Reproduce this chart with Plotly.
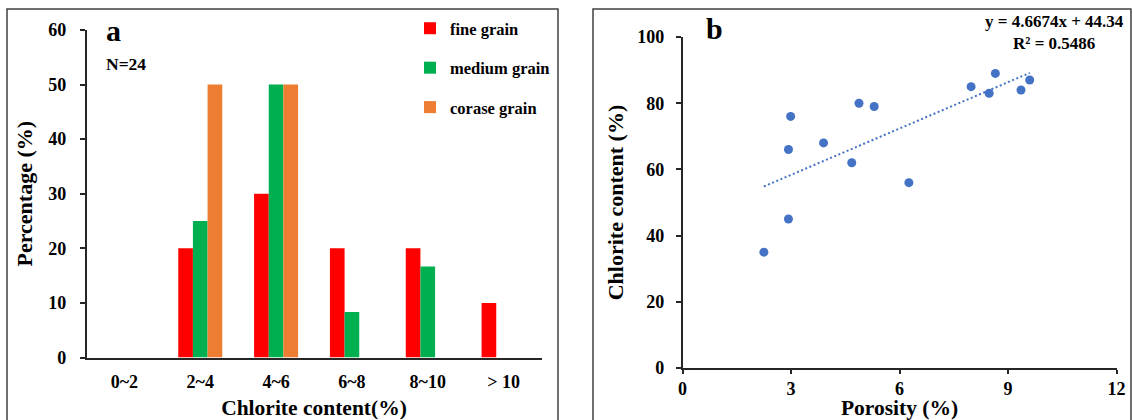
import plotly.graph_objects as go

# ---------------- data ----------------
categories = ["0~2", "2~4", "4~6", "6~8", "8~10", "> 10"]
fine_grain = [0, 20, 30, 20, 20, 10]
medium_grain = [0, 25, 50, 8.33, 16.67, 0]
coarse_grain = [0, 50, 50, 0, 0, 0]

porosity = [2.25, 2.93, 2.99, 2.93, 3.90, 4.68, 4.88, 5.30, 6.26, 7.98, 8.48, 8.65, 9.36, 9.60]
chlorite = [35, 45, 76, 66, 68, 62, 80, 79, 56, 85, 83, 89, 84, 87]

slope = 4.6674
intercept = 44.34
r_squared = 0.5486

W, H = 1132, 420
FONT = "Liberation Serif"


def px_x(p):
    return p / W


def px_y(p):
    return 1 - p / H


fig = go.Figure()

bar_colors = {"fine grain": "#FF0000", "medium grain": "#00B050", "corase grain": "#ED7D31"}
for name, vals in [("fine grain", fine_grain), ("medium grain", medium_grain), ("corase grain", coarse_grain)]:
    fig.add_trace(go.Bar(
        x=categories, y=vals, name=name, legendgroup=name,
        marker=dict(color=bar_colors[name], line=dict(width=0)),
        xaxis="x", yaxis="y",
    ))

fig.add_trace(go.Scatter(
    x=porosity, y=chlorite, mode="markers", showlegend=False,
    marker=dict(color="#4472C4", size=9),
    xaxis="x2", yaxis="y2",
))

xmin, xmax = min(porosity), max(porosity)
fig.add_trace(go.Scatter(
    x=[xmin, xmax], y=[slope * xmin + intercept, slope * xmax + intercept],
    mode="lines", showlegend=False,
    line=dict(color="#4472C4", width=2, dash="2px,2.5px"),
    xaxis="x2", yaxis="y2",
))

axis_common = dict(
    showline=True, linecolor="#262626", linewidth=1.5, showgrid=False, zeroline=False,
    tickfont=dict(family=FONT, size=18, color="black", weight="bold"),
    automargin=False,
)

fig.update_layout(
    width=W, height=H,
    margin=dict(l=0, r=0, t=0, b=0),
    paper_bgcolor="white", plot_bgcolor="white",
    barmode="group", bargap=0.42, bargroupgap=0,
    font=dict(family=FONT, color="black"),
    xaxis=dict(
        **axis_common,
        domain=[px_x(86.5), px_x(541.5)],
        type="category", categoryorder="array", categoryarray=categories,
        ticks="", ticklabelstandoff=7,
        title=dict(text="Chlorite content(%)", standoff=10,
                   font=dict(family=FONT, size=21.5, color="black", weight="bold")),
        anchor="y",
    ),
    yaxis=dict(
        **axis_common,
        domain=[px_y(357.5), px_y(30)],
        range=[0, 60], dtick=10, ticks="outside", ticklen=5, tickwidth=1.5, tickcolor="#262626",
        ticklabelstandoff=10,
        title=dict(text="Percentage (%)", standoff=9,
                   font=dict(family=FONT, size=22, color="black", weight="bold")),
        anchor="x",
    ),
    xaxis2=dict(
        **axis_common,
        domain=[px_x(682.5), px_x(1116.5)],
        range=[0, 12], dtick=3, ticks="outside", ticklen=4, tickwidth=1.5, tickcolor="#262626",
        ticklabelstandoff=0,
        title=dict(text="Porosity (%)", standoff=12,
                   font=dict(family=FONT, size=21.5, color="black", weight="bold")),
        anchor="y2",
    ),
    yaxis2=dict(
        **axis_common,
        domain=[px_y(368), px_y(37)],
        range=[0, 100], dtick=20, ticks="outside", ticklen=5, tickwidth=1.5, tickcolor="#262626",
        ticklabelstandoff=8,
        title=dict(text="Chlorite content (%)", standoff=7,
                   font=dict(family=FONT, size=22, color="black", weight="bold")),
        anchor="x2",
    ),
    legend=dict(
        x=px_x(410), y=px_y(11), xanchor="left", yanchor="top",
        font=dict(family=FONT, size=16.5, color="black", weight="bold"),
        tracegroupgap=15, bgcolor="rgba(0,0,0,0)", borderwidth=0,
        itemclick=False,
    ),
    shapes=[
        dict(type="rect", xref="paper", yref="paper",
             x0=px_x(7), x1=px_x(558), y0=px_y(440), y1=px_y(9),
             line=dict(color="#404040", width=1.5), fillcolor="rgba(0,0,0,0)", layer="below"),
        dict(type="rect", xref="paper", yref="paper",
             x0=px_x(593), x1=px_x(1131), y0=px_y(440), y1=px_y(9),
             line=dict(color="#404040", width=1.5), fillcolor="rgba(0,0,0,0)", layer="below"),
    ],
    annotations=[
        dict(text="a", xref="paper", yref="paper", x=px_x(104), y=px_y(31),
             xanchor="left", yanchor="middle", showarrow=False,
             font=dict(family=FONT, size=30, color="black", weight="bold")),
        dict(text="N=24", xref="paper", yref="paper", x=px_x(104), y=px_y(64),
             xanchor="left", yanchor="middle", showarrow=False,
             font=dict(family=FONT, size=17.5, color="black", weight="bold")),
        dict(text="b", xref="paper", yref="paper", x=px_x(704), y=px_y(29),
             xanchor="left", yanchor="middle", showarrow=False,
             font=dict(family=FONT, size=30, color="black", weight="bold")),
        dict(text=f"y = {slope}x + {intercept}<br>R² = {r_squared}", xref="paper", yref="paper",
             x=px_x(1054), y=px_y(33), xanchor="center", yanchor="middle", align="center",
             showarrow=False,
             font=dict(family=FONT, size=17, color="black", weight="bold")),
    ],
)

fig.write_html("out.html")
